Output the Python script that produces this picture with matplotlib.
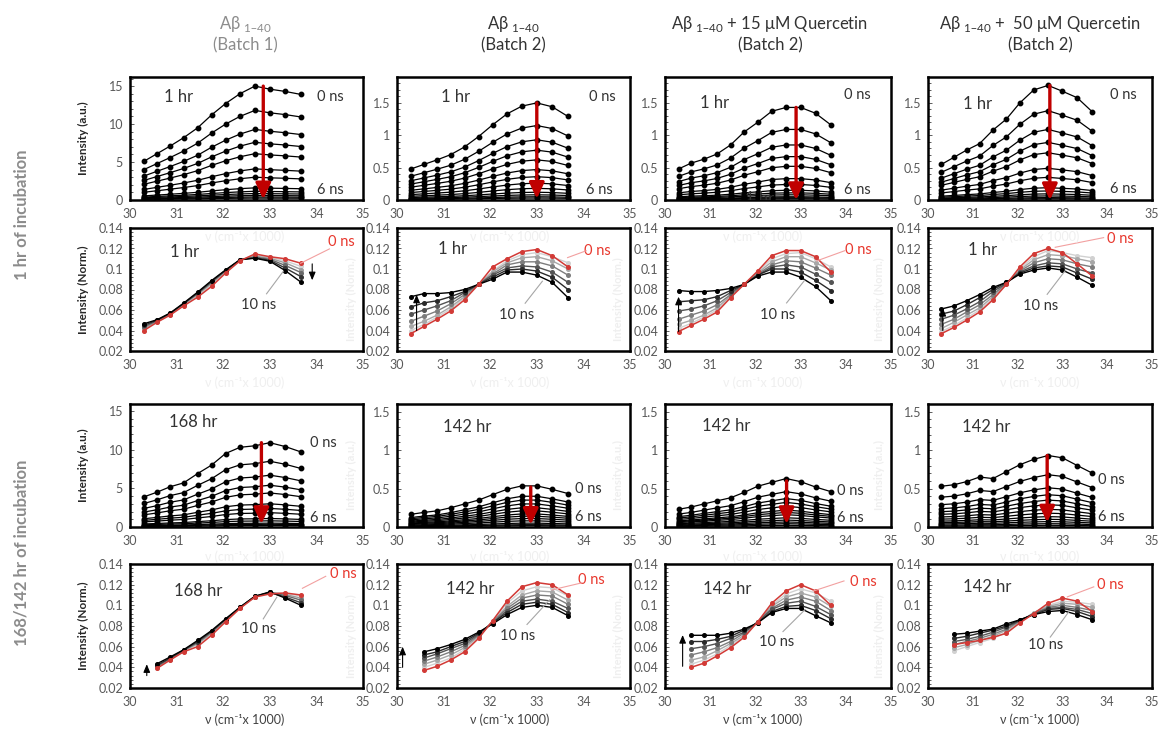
import numpy as np
import matplotlib
matplotlib.use('Agg')
import matplotlib.pyplot as plt
from matplotlib.ticker import FixedLocator, MultipleLocator, FormatStrFormatter

plt.rcParams['font.family'] = ['Lato', 'DejaVu Sans']

W, H = 1174, 730

# wavenumbers (cm-1 x 1000) of the 12 emission wavelengths, 330 ... 297 nm
NU = [30.30, 30.58, 30.86, 31.15, 31.45, 31.75, 32.05, 32.36, 32.68, 33.00, 33.33, 33.67]
NU_LATE = NU[1:]

COL_TITLES = [('A\u03b2 $_{\\mathregular{1\u201340}}$', '(Batch 1)'),
              ('A\u03b2 $_{\\mathregular{1\u201340}}$', '(Batch 2)'),
              ('A\u03b2 $_{\\mathregular{1\u201340}}$ + 15 \u03bcM Quercetin', '(Batch 2)'),
              ('A\u03b2 $_{\\mathregular{1\u201340}}$ +  50 \u03bcM Quercetin', '(Batch 2)')]
ROW_TITLES = ['1 hr of incubation', '168/142 hr of incubation']
XLABEL = '\u03bd (cm\u207b\u00b9x 1000)'

###############################################################################
# time-resolved intensity: 0 ns spectrum and the peak value of each decay step
# (0, 0.5, ... 6 ns)

INT_1H_B1_0NS = [5.1, 6.1, 7.1, 8.2, 9.5, 11.2, 12.7, 14.0, 15.0, 14.6, 14.3, 13.9]
INT_1H_B1_PEAK = [15.0, 11.8, 9.3, 7.6, 6.1, 4.1, 3.0, 1.6, 1.15, 0.85, 0.6, 0.4, 0.25]
INT_1H_B2_0NS = [0.48, 0.55, 0.62, 0.70, 0.82, 0.98, 1.16, 1.33, 1.45, 1.50, 1.44, 1.29]
INT_1H_B2_PEAK = [1.50, 1.15, 0.93, 0.77, 0.62, 0.47, 0.36, 0.26, 0.18, 0.12, 0.08, 0.05, 0.03]
INT_1H_Q15_0NS = [0.48, 0.57, 0.63, 0.71, 0.85, 1.05, 1.20, 1.37, 1.43, 1.43, 1.34, 1.16]
INT_1H_Q15_PEAK = [1.43, 1.09, 0.85, 0.67, 0.52, 0.33, 0.24, 0.15, 0.11, 0.08, 0.05, 0.035, 0.02]
INT_1H_Q50_0NS = [0.55, 0.66, 0.77, 0.87, 1.08, 1.25, 1.50, 1.70, 1.77, 1.68, 1.58, 1.36]
INT_1H_Q50_PEAK = [1.77, 1.38, 1.09, 0.89, 0.73, 0.49, 0.35, 0.19, 0.14, 0.095, 0.063, 0.037, 0.02]

INT_168H_B1_0NS = [3.9, 4.5, 5.2, 5.7, 6.9, 8.0, 9.5, 10.3, 10.5, 10.9, 10.4, 9.7]
INT_168H_B1_PEAK = [10.9, 8.5, 6.7, 5.4, 4.4, 3.0, 2.4, 1.85, 1.1, 0.8, 0.5, 0.35, 0.2]
INT_142H_B2_0NS = [0.165, 0.19, 0.21, 0.25, 0.30, 0.35, 0.42, 0.49, 0.535, 0.535, 0.49, 0.435]
INT_142H_B2_PEAK = [0.535, 0.40, 0.35, 0.30, 0.25, 0.21, 0.17, 0.14, 0.11, 0.08, 0.05, 0.03, 0.017]
INT_142H_Q15_0NS = [0.23, 0.26, 0.30, 0.34, 0.38, 0.45, 0.53, 0.58, 0.63, 0.59, 0.52, 0.46]
INT_142H_Q15_PEAK = [0.63, 0.46, 0.37, 0.32, 0.27, 0.22, 0.19, 0.16, 0.12, 0.09, 0.065, 0.043, 0.022]
INT_142H_Q50_0NS = [0.53, 0.55, 0.59, 0.65, 0.63, 0.72, 0.81, 0.88, 0.93, 0.90, 0.80, 0.70]
INT_142H_Q50_PEAK = [0.93, 0.68, 0.51, 0.42, 0.35, 0.29, 0.23, 0.18, 0.135, 0.10, 0.07, 0.043, 0.022]

###############################################################################
# normalised spectra, 0 ns (first, red) ... 10 ns (last, black)

NORM_1H_B1 = [
    [0.040, 0.048, 0.055, 0.064, 0.0725, 0.083, 0.096, 0.108, 0.1147, 0.112, 0.110, 0.1056],
    [0.041, 0.0485, 0.0555, 0.0648, 0.0738, 0.0846, 0.0970, 0.1085, 0.1135, 0.1115, 0.1080, 0.1025],
    [0.042, 0.049, 0.056, 0.0655, 0.075, 0.086, 0.0977, 0.1088, 0.1125, 0.1105, 0.106, 0.0995],
    [0.0435, 0.0495, 0.0563, 0.066, 0.076, 0.087, 0.0983, 0.109, 0.1117, 0.1095, 0.1035, 0.0965],
    [0.045, 0.050, 0.0567, 0.0663, 0.0767, 0.088, 0.0987, 0.109, 0.111, 0.1085, 0.101, 0.0925],
    [0.0466, 0.0505, 0.057, 0.0667, 0.0774, 0.0887, 0.0991, 0.109, 0.1105, 0.1076, 0.0985, 0.0871]]
NORM_1H_B2 = [
    [0.037, 0.044, 0.051, 0.059, 0.070, 0.085, 0.102, 0.110, 0.117, 0.119, 0.113, 0.102],
    [0.040, 0.046, 0.053, 0.061, 0.072, 0.085, 0.098, 0.108, 0.114, 0.116, 0.112, 0.106],
    [0.044, 0.049, 0.055, 0.063, 0.073, 0.085, 0.097, 0.106, 0.111, 0.112, 0.108, 0.100],
    [0.049, 0.054, 0.059, 0.066, 0.075, 0.085, 0.095, 0.104, 0.107, 0.107, 0.103, 0.094],
    [0.056, 0.060, 0.064, 0.069, 0.077, 0.085, 0.094, 0.101, 0.103, 0.102, 0.097, 0.087],
    [0.063, 0.067, 0.069, 0.073, 0.078, 0.085, 0.092, 0.099, 0.100, 0.098, 0.092, 0.080],
    [0.073, 0.076, 0.076, 0.077, 0.080, 0.085, 0.090, 0.097, 0.097, 0.094, 0.087, 0.072]]
NORM_1H_Q15 = [
    [0.039, 0.045, 0.051, 0.058, 0.072, 0.085, 0.098, 0.113, 0.118, 0.118, 0.112, 0.097],
    [0.042, 0.047, 0.053, 0.060, 0.073, 0.085, 0.097, 0.110, 0.115, 0.116, 0.110, 0.102],
    [0.046, 0.050, 0.055, 0.062, 0.074, 0.085, 0.096, 0.107, 0.112, 0.112, 0.106, 0.099],
    [0.051, 0.055, 0.059, 0.065, 0.075, 0.085, 0.095, 0.104, 0.108, 0.107, 0.101, 0.094],
    [0.059, 0.061, 0.064, 0.069, 0.077, 0.085, 0.094, 0.102, 0.104, 0.102, 0.095, 0.087],
    [0.068, 0.069, 0.070, 0.073, 0.079, 0.085, 0.094, 0.100, 0.100, 0.097, 0.089, 0.079],
    [0.079, 0.078, 0.078, 0.079, 0.081, 0.085, 0.093, 0.097, 0.097, 0.092, 0.083, 0.069]]
NORM_1H_Q50 = [
    [0.037, 0.043, 0.050, 0.058, 0.070, 0.085, 0.102, 0.115, 0.120, 0.116, 0.105, 0.093],
    [0.039, 0.045, 0.052, 0.060, 0.071, 0.085, 0.100, 0.112, 0.118, 0.116, 0.113, 0.111],
    [0.042, 0.048, 0.055, 0.062, 0.073, 0.086, 0.099, 0.109, 0.114, 0.113, 0.110, 0.107],
    [0.046, 0.051, 0.058, 0.065, 0.075, 0.086, 0.098, 0.106, 0.110, 0.109, 0.105, 0.102],
    [0.051, 0.055, 0.061, 0.068, 0.078, 0.086, 0.097, 0.103, 0.106, 0.105, 0.100, 0.096],
    [0.056, 0.059, 0.065, 0.072, 0.080, 0.087, 0.096, 0.101, 0.103, 0.102, 0.096, 0.090],
    [0.061, 0.064, 0.069, 0.075, 0.082, 0.087, 0.095, 0.099, 0.101, 0.099, 0.092, 0.084]]

NORM_168H_B1 = [
    [0.039, 0.047, 0.055, 0.060, 0.071, 0.084, 0.097, 0.108, 0.111, 0.112, 0.110],
    [0.0395, 0.0475, 0.0555, 0.062, 0.072, 0.085, 0.0975, 0.108, 0.1125, 0.1115, 0.109],
    [0.040, 0.048, 0.056, 0.063, 0.073, 0.0855, 0.098, 0.1083, 0.1125, 0.1105, 0.107],
    [0.041, 0.0485, 0.0563, 0.064, 0.074, 0.086, 0.098, 0.1085, 0.1125, 0.1095, 0.105],
    [0.042, 0.049, 0.0567, 0.065, 0.075, 0.0865, 0.098, 0.1087, 0.1125, 0.108, 0.1025],
    [0.0435, 0.050, 0.057, 0.066, 0.0756, 0.0869, 0.0982, 0.1088, 0.113, 0.107, 0.100]]
NORM_142H_B2 = [
    [0.037, 0.041, 0.047, 0.055, 0.068, 0.085, 0.104, 0.118, 0.122, 0.120, 0.110],
    [0.040, 0.044, 0.049, 0.057, 0.069, 0.085, 0.102, 0.114, 0.118, 0.117, 0.109],
    [0.043, 0.047, 0.052, 0.059, 0.070, 0.084, 0.099, 0.110, 0.114, 0.113, 0.105],
    [0.046, 0.050, 0.055, 0.061, 0.071, 0.084, 0.097, 0.107, 0.110, 0.109, 0.101],
    [0.049, 0.053, 0.058, 0.063, 0.072, 0.083, 0.095, 0.104, 0.106, 0.104, 0.097],
    [0.052, 0.055, 0.060, 0.065, 0.073, 0.083, 0.093, 0.101, 0.103, 0.101, 0.093],
    [0.055, 0.058, 0.062, 0.067, 0.074, 0.082, 0.091, 0.098, 0.100, 0.098, 0.090]]
NORM_142H_Q15 = [
    [0.040, 0.044, 0.051, 0.059, 0.069, 0.084, 0.102, 0.114, 0.120, 0.114, 0.100],
    [0.043, 0.047, 0.053, 0.061, 0.070, 0.084, 0.100, 0.111, 0.116, 0.112, 0.104],
    [0.047, 0.050, 0.056, 0.063, 0.071, 0.084, 0.099, 0.108, 0.112, 0.108, 0.099],
    [0.052, 0.055, 0.059, 0.065, 0.073, 0.084, 0.097, 0.105, 0.108, 0.104, 0.095],
    [0.058, 0.060, 0.063, 0.068, 0.074, 0.084, 0.096, 0.102, 0.104, 0.099, 0.091],
    [0.065, 0.065, 0.067, 0.070, 0.076, 0.083, 0.094, 0.099, 0.100, 0.095, 0.087],
    [0.071, 0.071, 0.071, 0.073, 0.077, 0.083, 0.093, 0.097, 0.097, 0.090, 0.083]]
NORM_142H_Q50 = [
    [0.062, 0.064, 0.066, 0.069, 0.073, 0.083, 0.092, 0.102, 0.107, 0.104, 0.094],
    [0.056, 0.060, 0.064, 0.068, 0.074, 0.084, 0.093, 0.100, 0.104, 0.103, 0.101],
    [0.059, 0.062, 0.066, 0.070, 0.076, 0.084, 0.093, 0.099, 0.102, 0.101, 0.098],
    [0.062, 0.065, 0.068, 0.072, 0.077, 0.085, 0.092, 0.098, 0.100, 0.098, 0.095],
    [0.065, 0.067, 0.070, 0.074, 0.079, 0.085, 0.092, 0.097, 0.098, 0.096, 0.092],
    [0.068, 0.070, 0.073, 0.076, 0.080, 0.086, 0.091, 0.096, 0.097, 0.094, 0.089],
    [0.072, 0.073, 0.075, 0.077, 0.082, 0.086, 0.091, 0.094, 0.095, 0.091, 0.086]]

###############################################################################
# panel layout: box in pixels (left, top, right, bottom)

COL_X = [(130, 363), (397, 630), (665, 891), (928, 1152)]
ROW_Y = [(77, 200), (228, 351), (404, 527), (564, 688)]

INTENSITY_PANELS = [
    # row, col, 0ns, peaks, ymax, arrow x, arrow tail, arrow tip, label, label pos, 0ns pos, 6ns pos
    (0, 0, INT_1H_B1_0NS, INT_1H_B1_PEAK, 16.2, 32.86, 15.0, 0.1, '1 hr', (0.21, 0.84), (0.86, 0.84), (0.86, 0.08)),
    (0, 1, INT_1H_B2_0NS, INT_1H_B2_PEAK, 1.9, 33.0, 1.50, 0.02, '1 hr', (0.25, 0.84), (0.88, 0.84), (0.87, 0.08)),
    (0, 2, INT_1H_Q15_0NS, INT_1H_Q15_PEAK, 1.9, 32.9, 1.43, 0.0, '1 hr', (0.22, 0.79), (0.85, 0.85), (0.85, 0.08)),
    (0, 3, INT_1H_Q50_0NS, INT_1H_Q50_PEAK, 1.9, 32.72, 1.77, 0.0, '1 hr', (0.22, 0.78), (0.87, 0.85), (0.87, 0.09)),
    (2, 0, INT_168H_B1_0NS, INT_168H_B1_PEAK, 15.9, 32.82, 10.9, 0.4, '168 hr', (0.27, 0.85), (0.83, 0.68), (0.83, 0.07)),
    (2, 1, INT_142H_B2_0NS, INT_142H_B2_PEAK, 1.6, 32.87, 0.52, 0.03, '142 hr', (0.30, 0.81), (0.82, 0.31), (0.82, 0.08)),
    (2, 2, INT_142H_Q15_0NS, INT_142H_Q15_PEAK, 1.6, 32.69, 0.60, 0.04, '142 hr', (0.27, 0.82), (0.82, 0.29), (0.82, 0.07)),
    (2, 3, INT_142H_Q50_0NS, INT_142H_Q50_PEAK, 1.6, 32.66, 0.93, 0.06, '142 hr', (0.26, 0.81), (0.82, 0.38), (0.82, 0.08)),
]

NORM_PANELS = [
    # row, col, curves, x, label (text, x, y), red 0 ns text, red leader, 10 ns text, grey leader, black arrow
    (1, 0, NORM_1H_B1, NU, ('1 hr', 31.18, 0.1163), (34.53, 0.126), ((33.66, 0.1056), (34.28, 0.1196)),
     (32.75, 0.0644), ((32.93, 0.0758), (33.29, 0.0978)), ((33.91, 0.105), (33.91, 0.089))),
    (1, 1, NORM_1H_B2, NU, ('1 hr', 31.20, 0.1195), (34.31, 0.1178), ((33.66, 0.1111), (34.06, 0.1178)),
     (32.57, 0.055), ((32.75, 0.0666), (33.12, 0.0881)), ((30.42, 0.040), (30.42, 0.075))),
    (1, 2, NORM_1H_Q15, NU, None, (34.28, 0.1189), ((33.35, 0.1078), (33.98, 0.1179)),
     (32.50, 0.0552), ((32.69, 0.0669), (33.09, 0.089)), ((30.30, 0.039), (30.30, 0.073))),
    (1, 3, NORM_1H_Q50, NU, ('1 hr', 31.21, 0.1189), (34.29, 0.1289), ((32.84, 0.1212), (33.92, 0.1306)),
     (32.51, 0.0642), ((32.66, 0.0753), (33.07, 0.0988)), ((30.33, 0.040), (30.33, 0.062))),
    (3, 0, NORM_168H_B1, NU_LATE, ('168 hr', 31.47, 0.1143), (34.57, 0.1303), ((33.70, 0.1165), (34.20, 0.1281)),
     (32.75, 0.0773), ((32.86, 0.0869), (33.15, 0.1078)), ((30.36, 0.032), (30.36, 0.043))),
    (3, 1, NORM_142H_B2, NU_LATE, ('142 hr', 31.57, 0.116), (34.18, 0.1246), ((33.33, 0.115), (33.97, 0.1218)),
     (32.58, 0.070), ((32.79, 0.0815), (33.28, 0.1055)), ((30.12, 0.040), (30.12, 0.060))),
    (3, 2, NORM_142H_Q15, NU_LATE, ('142 hr', 31.38, 0.1155), (34.39, 0.1227), ((33.28, 0.1138), (33.96, 0.1236)),
     (32.46, 0.0648), ((32.61, 0.0746), (33.10, 0.0959)), ((30.39, 0.041), (30.39, 0.0713))),
    (3, 3, NORM_142H_Q50, NU_LATE, ('142 hr', 31.31, 0.118), (34.08, 0.1196), ((33.11, 0.1082), (33.70, 0.1179)),
     (32.63, 0.0612), ((32.73, 0.0693), (33.14, 0.0936)), None),
]

RED = '#d23a36'
TXT = '#333333'
GHOST = '#efefef'

###############################################################################

def px_axes(fig, row, col):
    '''Axes placed on the pixel box of one panel.'''
    x0, x1 = COL_X[col]
    y0, y1 = ROW_Y[row]
    return fig.add_axes([x0 / W, 1 - y1 / H, (x1 - x0) / W, (y1 - y0) / H])


def style_frame(axes, ylim, majors, minor):
    axes.set_xlim(30, 35)
    axes.set_ylim(*ylim)
    axes.xaxis.set_major_locator(MultipleLocator(1))
    axes.yaxis.set_major_locator(FixedLocator(majors))
    axes.yaxis.set_minor_locator(MultipleLocator(minor))
    axes.yaxis.set_major_formatter(FormatStrFormatter('%g'))
    for spine in axes.spines.values():
        spine.set_linewidth(1.8)
    axes.tick_params(axis='both', which='both', direction='in', labelsize=9,
                     labelcolor='#595959', color='#444444', width=0.6)
    axes.tick_params(axis='y', which='major', length=3, pad=5)
    axes.tick_params(axis='y', which='minor', length=2)
    axes.tick_params(axis='x', which='major', length=0, pad=6)


def draw_intensity(fig, spec):
    row, col, top, peaks, ymax, ax_x, tail, tip, label, lpos, zpos, spos = spec
    axes = px_axes(fig, row, col)
    if col == 0:
        style_frame(axes, (0, ymax), [0, 5, 10, 15], 1)
    else:
        style_frame(axes, (0, ymax), [0, 0.5, 1, 1.5], 0.1)
    shape = np.array(top) / peaks[0]
    for amp in peaks[::-1]:
        axes.plot(NU, shape * amp, color='black', lw=0.9, marker='o', ms=3.2, zorder=2)
    axes.annotate('', xy=(ax_x, tip), xytext=(ax_x, tail),
                  arrowprops=dict(arrowstyle='-|>,head_width=0.45,head_length=0.95',
                                  color='#c00000', lw=2.4, mutation_scale=10,
                                  shrinkA=0, shrinkB=0), zorder=5)
    axes.text(*lpos, label, transform=axes.transAxes, ha='center', va='center',
              fontsize=12, color=TXT)
    axes.text(*zpos, '0 ns', transform=axes.transAxes, ha='center', va='center',
              fontsize=10.5, color=TXT)
    axes.text(*spos, '6 ns', transform=axes.transAxes, ha='center', va='center',
              fontsize=10.5, color=TXT)
    return axes


def draw_norm(fig, spec):
    row, col, curves, xs, label, red_txt, red_line, ten_txt, grey_line, arrow = spec
    axes = px_axes(fig, row, col)
    style_frame(axes, (0.02, 0.14), [0.02, 0.04, 0.06, 0.08, 0.1, 0.12, 0.14], 0.004)
    greys = np.linspace(0.82, 0.0, len(curves) - 1)
    for level, curve in zip(greys, curves[1:]):
        axes.plot(xs, curve, color=str(level), lw=1.0, marker='o', ms=2.6, zorder=2)
    axes.plot(xs, curves[0], color=RED, lw=1.1, marker='o', ms=2.6, zorder=3)
    if label:
        axes.text(label[1], label[2], label[0], ha='center', va='center',
                  fontsize=12, color=TXT)
    axes.text(*red_txt, '0 ns', ha='center', va='center', fontsize=10.5, color='#e8382e')
    axes.plot(*zip(*red_line), color='#f2a0a0', lw=0.8, zorder=4)
    axes.text(*ten_txt, '10 ns', ha='center', va='center', fontsize=10.5, color=TXT)
    axes.plot(*zip(*grey_line), color='#a6a6a6', lw=0.8, zorder=4)
    if arrow:
        axes.annotate('', xy=arrow[1], xytext=arrow[0],
                      arrowprops=dict(arrowstyle='-|>,head_width=0.25,head_length=0.6',
                                      color='black', lw=0.8, mutation_scale=8,
                                      shrinkA=0, shrinkB=0), zorder=5)
    return axes


def main():
    fig = plt.figure(figsize=(W / 100, H / 100), dpi=100)
    fig.set_facecolor('white')

    # faint leftover labels behind the panels
    xl_centers = [245, 510, 763, 1040]
    for col in range(4):
        for ypx in (237, 383, 557):
            fig.text(xl_centers[col] / W, 1 - ypx / H, XLABEL, ha='center', va='center',
                     fontsize=9, color=GHOST)
    for row in (1, 2, 3):
        y0, y1 = ROW_Y[row]
        text = 'Intensity (Norm.)' if row % 2 else 'Intensity (a.u.)'
        for col in range(3):
            fig.text((COL_X[col][1] - 12) / W, 1 - ((y0 + y1) / 2 + 10) / H, text,
                     rotation=90, ha='center', va='center', fontsize=8,
                     fontweight='bold', color=GHOST)

    all_axes = {}
    for spec in INTENSITY_PANELS:
        all_axes[(spec[0], spec[1])] = draw_intensity(fig, spec)
    for spec in NORM_PANELS:
        all_axes[(spec[0], spec[1])] = draw_norm(fig, spec)
    for axes in all_axes.values():
        axes.patch.set_alpha(0)

    # stray '1 hr' label clipped at the bottom of the 15 uM panel
    all_axes[(0, 2)].text(32.09, 0.02, '1 hr', ha='center', va='center', fontsize=12,
                          color=TXT, clip_on=True)

    # column titles
    centers = [245, 513, 770, 1040]
    for idx, (line1, line2) in enumerate(COL_TITLES):
        colour = '#8c8c8c' if idx == 0 else '#333333'
        fig.text(centers[idx] / W, 1 - 24 / H, line1, ha='center', va='center',
                 fontsize=12, color=colour)
        fig.text(centers[idx] / W, 1 - 45 / H, line2, ha='center', va='center',
                 fontsize=12, color=colour)

    # row titles
    fig.text(22 / W, 1 - 215 / H, ROW_TITLES[0], rotation=90, ha='center', va='center',
             fontsize=12, fontweight='bold', color='#8c8c8c')
    fig.text(22 / W, 1 - 553 / H, ROW_TITLES[1], rotation=90, ha='center', va='center',
             fontsize=12, fontweight='bold', color='#8c8c8c')

    # y labels of the first column
    for row, text in enumerate(['Intensity (a.u.)', 'Intensity (Norm.)',
                                'Intensity (a.u.)', 'Intensity (Norm.)']):
        y0, y1 = ROW_Y[row]
        fig.text(83 / W, 1 - (y0 + y1) / 2 / H, text, rotation=90, ha='center',
                 va='center', fontsize=8.5, fontweight='bold', color='#262626')

    # x labels below the last row
    for col in range(4):
        fig.text(xl_centers[col] / W, 1 - 720 / H, XLABEL, ha='center', va='center',
                 fontsize=9, color='#404040')

    fig.savefig('out.png', dpi=100, facecolor='white')

###############################################################################

if __name__ == '__main__':
    main()
